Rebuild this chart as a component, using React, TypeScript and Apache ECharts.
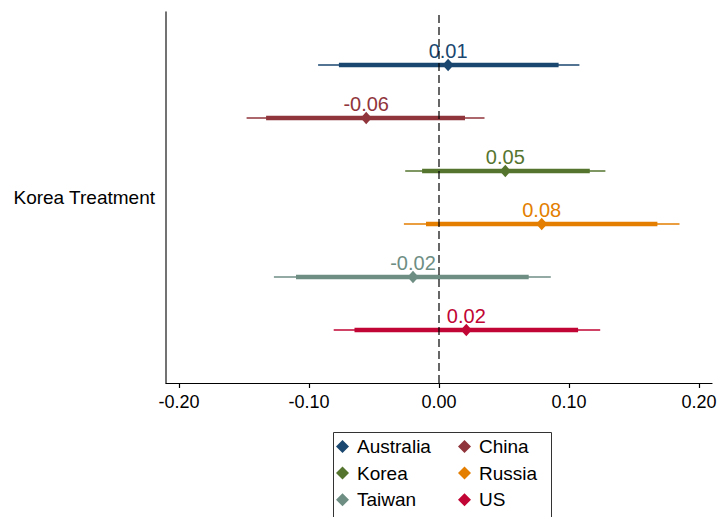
import React, { useEffect, useRef } from "react";
import * as echarts from "echarts";

const countries = ["Australia", "China", "Korea", "Russia", "Taiwan", "US"];
const estimates = [0.007, -0.056, 0.051, 0.079, -0.02, 0.021];
const ci95Low = [-0.093, -0.148, -0.026, -0.027, -0.127, -0.081];
const ci95High = [0.108, 0.035, 0.128, 0.185, 0.086, 0.124];
const ci90Low = [-0.077, -0.133, -0.013, -0.01, -0.11, -0.065];
const ci90High = [0.092, 0.02, 0.116, 0.168, 0.069, 0.107];
const rowPositions = [6, 5, 4, 3, 2, 1];
const colors = ["#1a476f", "#90353b", "#55752f", "#e37e00", "#6e8e84", "#c10534"];
const xTicks = [-0.2, -0.1, 0, 0.1, 0.2];
const yCategories = ["Korea Treatment"];
// legend layout: [column, row] for each country
const legendCell = [[0, 0], [1, 0], [0, 1], [1, 1], [0, 2], [1, 2]];

const FONT = "'Liberation Sans', Arial, sans-serif";

export default function App() {
  const ref = useRef<HTMLDivElement>(null);
  useEffect(() => {
    document.body.style.margin = "0";
    const chart = echarts.init(ref.current!, null, { renderer: "svg" });
    const series: any[] = countries.map((name, i) => ({
      name,
      type: "custom",
      xAxisIndex: 0,
      yAxisIndex: 1,
      itemStyle: { color: colors[i] },
      encode: { x: [0, 1, 2, 3, 4], y: 5 },
      data: [[ci95Low[i], ci95High[i], ci90Low[i], ci90High[i], estimates[i], rowPositions[i]]],
      renderItem: (params: any, api: any) => {
        const y = api.value(5);
        const a = api.coord([api.value(0), y]);
        const b = api.coord([api.value(1), y]);
        const c = api.coord([api.value(2), y]);
        const d = api.coord([api.value(3), y]);
        const e = api.coord([api.value(4), y]);
        const color = api.visual("color");
        const est = api.value(4) as number;
        return {
          type: "group",
          children: [
            { type: "line", shape: { x1: a[0], y1: a[1], x2: b[0], y2: b[1] }, style: { stroke: color, lineWidth: 1.5 } },
            { type: "line", shape: { x1: c[0], y1: c[1], x2: d[0], y2: d[1] }, style: { stroke: color, lineWidth: 4.5 } },
            {
              type: "polygon",
              shape: { points: [[e[0], e[1] - 6.2], [e[0] + 5.6, e[1]], [e[0], e[1] + 6.2], [e[0] - 5.6, e[1]]] },
              style: { fill: color },
            },
            {
              type: "text",
              x: e[0],
              y: e[1] - 4,
              style: {
                text: est.toFixed(2),
                fill: color,
                fontSize: 20,
                fontFamily: FONT,
                align: "center",
                verticalAlign: "bottom",
              },
            },
          ],
        };
      },
    }));
    series.push({
      name: "zero",
      type: "line",
      xAxisIndex: 0,
      yAxisIndex: 1,
      data: [[0, 0], [0, 7]],
      symbol: "none",
      z: 5,
      lineStyle: { color: "#000", width: 1.2, type: [8, 4] },
      silent: true,
    });
    const legends = countries.map((name, i) => ({
      orient: "vertical",
      itemWidth: 13,
      itemHeight: 13,
      selectedMode: false,
      left: 336 + legendCell[i][0] * 122,
      top: 437 + legendCell[i][1] * 26.6,
      padding: 0,
      data: [{ name, icon: "diamond" }],
      textStyle: { fontSize: 19, color: "#000", fontFamily: FONT, padding: [0, 0, 0, 3] },
    }));
    chart.setOption({
      animation: false,
      backgroundColor: "#fff",
      textStyle: { fontFamily: FONT },
      grid: { left: 166, top: 12, right: 11, bottom: 134, containLabel: false },
      xAxis: {
        type: "value",
        min: -0.21,
        max: 0.21,
        splitLine: { show: false },
        axisLine: { onZero: false, lineStyle: { color: "#000", width: 1.2 } },
        axisTick: { show: true, customValues: xTicks, length: 5, lineStyle: { color: "#000", width: 1.2 } },
        axisLabel: {
          customValues: xTicks,
          formatter: (v: number) => v.toFixed(2),
          fontSize: 18,
          color: "#000",
          fontFamily: FONT,
          margin: 10,
        },
      },
      yAxis: [
        {
          type: "category",
          data: yCategories,
          axisLine: { onZero: false, lineStyle: { color: "#444", width: 1.5 } },
          axisTick: { alignWithLabel: true, length: 6, lineStyle: { color: "#444", width: 1.2 } },
          axisLabel: { fontSize: 19, color: "#000", fontFamily: FONT, margin: 11 },
          splitLine: { show: false },
        },
        { type: "value", min: 0, max: 7, show: false },
      ],
      legend: legends,
      graphic: [
        {
          type: "rect",
          left: 331,
          top: 430,
          shape: { width: 218, height: 86 },
          style: { fill: "none", stroke: "#333", lineWidth: 1 },
        },
      ],
      series,
    });
    return () => chart.dispose();
  }, []);
  return <div ref={ref} style={{ width: 723, height: 517 }} />;
}
